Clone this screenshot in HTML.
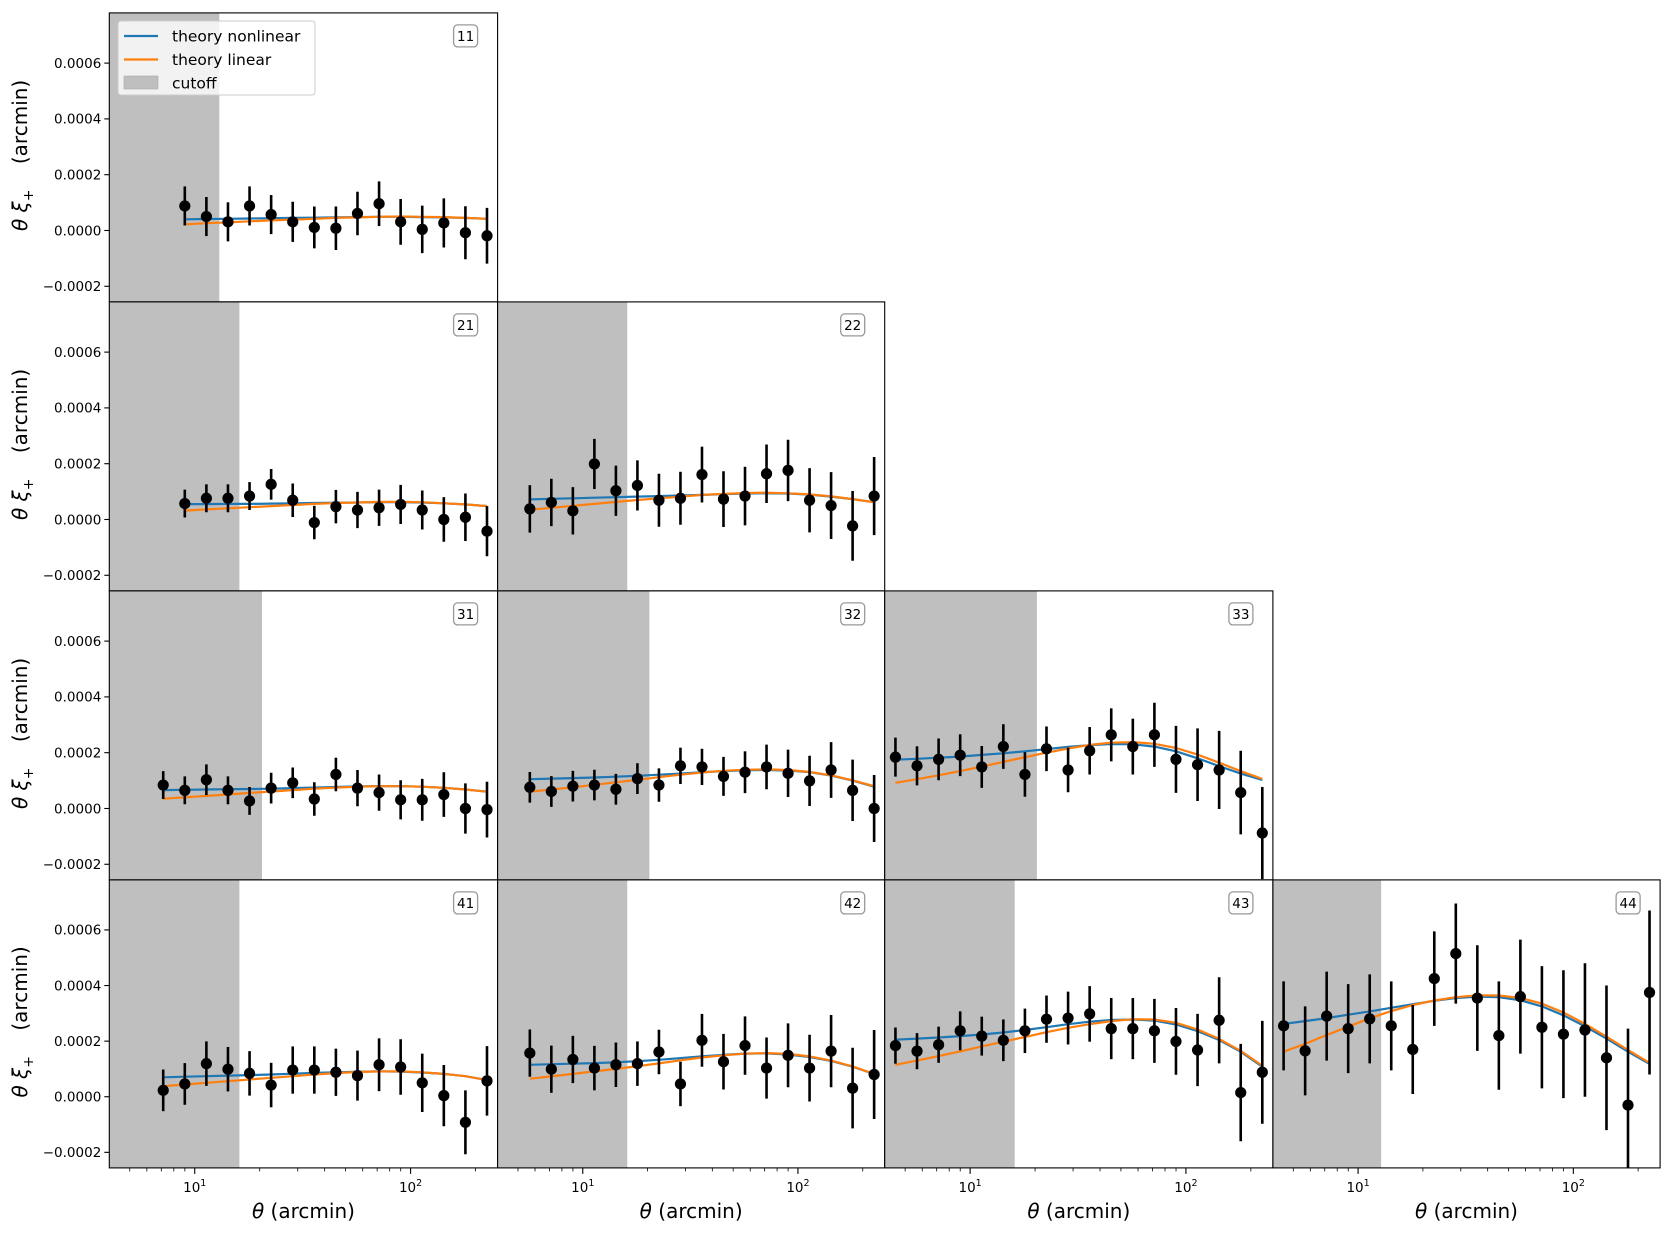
<!DOCTYPE html>
<html><head><meta charset="utf-8"><style>
html,body{margin:0;padding:0;background:#fff}
svg{display:block;font-family:"DejaVu Sans","Liberation Sans",sans-serif}
</style></head><body>
<svg id="fig" width="1672" height="1235" viewBox="0 0 1672 1235" xmlns="http://www.w3.org/2000/svg"></svg>
<script>
// ---- data (values in units of 1e-4) ----
const thetaGridLog0 = 0.654;           // log10 of first angular bin
const thetaGridStep = 0.1;             // log10 bin step
const panelIds = ["11","21","22","31","32","33","41","42","43","44"];
const panelStart = [3,3,1,2,1,0,2,1,0,0];
const cutoffs = [13.0,16.1,16.1,20.5,20.4,20.4,16.1,16.1,16.1,12.8];
const data11 = [0.88,0.50,0.31,0.88,0.57,0.31,0.11,0.08,0.61,0.96,0.31,0.04,0.27,-0.08,-0.19];
const err11  = [0.7,0.7,0.7,0.7,0.7,0.72,0.75,0.78,0.78,0.8,0.82,0.85,0.88,0.95,1.0];
const nl11   = [0.40,0.41,0.42,0.43,0.44,0.45,0.46,0.47,0.48,0.49,0.49,0.48,0.47,0.45,0.42];
const lin11  = [0.22,0.26,0.29,0.33,0.36,0.39,0.42,0.45,0.47,0.49,0.50,0.49,0.48,0.45,0.42];
const data21 = [0.57,0.76,0.76,0.84,1.26,0.69,-0.11,0.46,0.34,0.42,0.54,0.34,0.0,0.08,-0.42];
const err21  = [0.5,0.5,0.5,0.5,0.55,0.6,0.6,0.6,0.65,0.65,0.7,0.7,0.8,0.85,0.9];
const nl21   = [0.55,0.55,0.56,0.56,0.57,0.58,0.59,0.60,0.61,0.62,0.62,0.61,0.58,0.54,0.48];
const lin21  = [0.32,0.36,0.40,0.44,0.48,0.52,0.56,0.59,0.61,0.63,0.63,0.62,0.58,0.54,0.48];
const data22 = [0.38,0.61,0.31,1.99,1.03,1.22,0.69,0.76,1.61,0.73,0.84,1.64,1.76,0.69,0.50,-0.23,0.84];
const err22  = [0.85,0.85,0.85,0.9,0.9,0.9,0.95,0.95,1.0,1.0,1.05,1.05,1.1,1.15,1.2,1.25,1.4];
const nl22   = [0.72,0.74,0.76,0.78,0.80,0.82,0.84,0.86,0.88,0.91,0.93,0.94,0.93,0.89,0.82,0.73,0.62];
const lin22  = [0.35,0.42,0.49,0.56,0.63,0.70,0.76,0.82,0.88,0.92,0.95,0.96,0.94,0.90,0.83,0.73,0.62];
const data31 = [0.84,0.65,1.03,0.65,0.27,0.73,0.92,0.34,1.22,0.73,0.57,0.31,0.31,0.50,0.0,-0.04];
const err31  = [0.5,0.5,0.55,0.5,0.5,0.55,0.55,0.6,0.6,0.65,0.65,0.7,0.75,0.8,0.9,1.0];
const nl31   = [0.66,0.67,0.68,0.69,0.70,0.71,0.73,0.75,0.77,0.79,0.80,0.80,0.78,0.74,0.68,0.60];
const lin31  = [0.35,0.40,0.45,0.50,0.56,0.61,0.66,0.71,0.75,0.78,0.80,0.80,0.78,0.74,0.68,0.60];
const data32 = [0.76,0.61,0.80,0.84,0.69,1.07,0.84,1.53,1.49,1.15,1.30,1.49,1.26,0.99,1.38,0.65,0.0];
const err32  = [0.55,0.55,0.55,0.55,0.55,0.55,0.6,0.65,0.65,0.7,0.75,0.8,0.85,0.9,1.0,1.1,1.2];
const nl32   = [1.05,1.07,1.09,1.11,1.14,1.17,1.21,1.25,1.30,1.34,1.37,1.38,1.36,1.30,1.18,1.00,0.78];
const lin32  = [0.60,0.68,0.76,0.85,0.94,1.03,1.12,1.21,1.29,1.35,1.39,1.40,1.38,1.31,1.19,1.01,0.80];
const data33 = [1.84,1.53,1.76,1.91,1.49,2.22,1.22,2.14,1.38,2.07,2.64,2.22,2.64,1.76,1.57,1.38,0.57,-0.88];
const err33  = [0.7,0.7,0.75,0.75,0.75,0.8,0.8,0.8,0.8,0.85,0.95,1.0,1.15,1.2,1.3,1.4,1.5,1.65];
const nl33   = [1.75,1.78,1.82,1.86,1.92,1.98,2.05,2.13,2.21,2.27,2.31,2.30,2.22,2.05,1.80,1.52,1.25,1.02];
const lin33  = [0.92,1.05,1.19,1.34,1.50,1.67,1.84,2.00,2.15,2.28,2.36,2.38,2.32,2.17,1.93,1.64,1.34,1.06];
const data41 = [0.23,0.46,1.19,0.99,0.84,0.42,0.96,0.96,0.88,0.76,1.15,1.07,0.50,0.04,-0.92,0.57];
const err41  = [0.75,0.75,0.8,0.8,0.8,0.8,0.85,0.85,0.85,0.9,0.95,1.0,1.05,1.1,1.15,1.25];
const nl41   = [0.70,0.72,0.74,0.76,0.78,0.80,0.83,0.86,0.88,0.90,0.91,0.90,0.87,0.82,0.74,0.60];
const lin41  = [0.38,0.44,0.50,0.56,0.62,0.68,0.74,0.80,0.85,0.89,0.91,0.91,0.88,0.82,0.74,0.60];
const data42 = [1.57,0.99,1.34,1.03,1.15,1.19,1.61,0.46,2.03,1.26,1.84,1.03,1.49,1.03,1.64,0.31,0.80];
const err42  = [0.85,0.85,0.85,0.8,0.8,0.8,0.8,0.8,0.95,1.0,1.05,1.1,1.15,1.2,1.3,1.45,1.6];
const nl42   = [1.15,1.17,1.19,1.21,1.24,1.28,1.33,1.39,1.45,1.51,1.55,1.56,1.52,1.43,1.29,1.08,0.82];
const lin42  = [0.65,0.73,0.82,0.91,1.00,1.10,1.20,1.31,1.41,1.49,1.55,1.57,1.54,1.45,1.30,1.09,0.82];
const data43 = [1.84,1.64,1.87,2.37,2.18,2.03,2.37,2.79,2.83,2.98,2.45,2.45,2.37,1.99,1.68,2.75,0.15,0.88];
const err43  = [0.65,0.65,0.65,0.7,0.7,0.75,0.8,0.85,0.95,1.0,1.1,1.1,1.15,1.2,1.3,1.55,1.75,1.85];
const nl43   = [2.05,2.09,2.13,2.18,2.24,2.31,2.40,2.50,2.61,2.70,2.76,2.78,2.74,2.60,2.36,2.04,1.62,1.08];
const lin43  = [1.15,1.30,1.46,1.63,1.81,1.98,2.15,2.32,2.48,2.61,2.72,2.79,2.78,2.66,2.42,2.08,1.65,1.12];
const data44 = [2.55,1.65,2.90,2.45,2.80,2.55,1.70,4.25,5.15,3.55,2.20,3.60,2.50,2.25,2.40,1.40,-0.30,3.75];
const err44  = [1.6,1.6,1.6,1.6,1.6,1.6,1.6,1.7,1.8,1.9,1.95,2.05,2.2,2.3,2.4,2.6,2.75,2.95];
const nl44   = [2.62,2.72,2.83,2.95,3.07,3.20,3.33,3.45,3.55,3.60,3.58,3.47,3.25,2.93,2.53,2.09,1.62,1.18];
const lin44  = [1.62,1.90,2.22,2.52,2.82,3.08,3.30,3.46,3.58,3.65,3.64,3.55,3.35,3.03,2.62,2.16,1.68,1.22];
const yTicks = [6,4,2,0,-2];
const yTickLabels = ["0.0006","0.0004","0.0002","0.0000","\u22120.0002"];
const xTickDecades = [1,2];

const panelData = [data11,data21,data22,data31,data32,data33,data41,data42,data43,data44];
const panelErr  = [err11,err21,err22,err31,err32,err33,err41,err42,err43,err44];
const panelNL   = [nl11,nl21,nl22,nl31,nl32,nl33,nl41,nl42,nl43,nl44];
const panelLin  = [lin11,lin21,lin22,lin31,lin32,lin33,lin41,lin42,lin43,lin44];

// ---- layout ----
const colX = [109.3,497.6,884.7,1272.9,1660.1];
const rowY = [12.9,301.9,590.9,879.9,1167.9];
const XMIN = Math.log10(4.02), XMAX = Math.log10(253);
const YMIN = -2.56, YMAX = 7.8;
const NS = "http://www.w3.org/2000/svg";
const svg = document.getElementById('fig');
function mk(tag, attrs, parent){
  const e = document.createElementNS(NS, tag);
  for (const k in attrs) e.setAttribute(k, attrs[k]);
  (parent||svg).appendChild(e);
  return e;
}
function xs(col, t){ const L=colX[col], W=colX[col+1]-colX[col]; return L + (Math.log10(t)-XMIN)/(XMAX-XMIN)*W; }
function ys(row, v){ const T=rowY[row], H=rowY[row+1]-rowY[row]; return T + (YMAX-v)/(YMAX-YMIN)*H; }
function thetaAt(i){ return Math.pow(10, thetaGridLog0 + thetaGridStep*i); }

panelIds.forEach((id, p) => {
  const row = +id[0]-1, col = +id[1]-1;
  const L=colX[col], R=colX[col+1], T=rowY[row], B=rowY[row+1];
  const g = mk('g', {});
  
  
  const clipId = 'clip'+id;
  const cp = mk('clipPath', {id: clipId}, g);
  mk('rect', {x:L, y:T, width:R-L, height:B-T}, cp);
  const inner = mk('g', {'clip-path':'url(#'+clipId+')'}, g);
  mk('rect', {x:L, y:T, width:R-L, height:B-T, fill:'#fff'}, inner);
  const cut = mk('rect', {x:L, y:T, width:xs(col,cutoffs[p])-L, height:B-T, fill:'#bfbfbf'}, inner);
  
  
  const s = panelStart[p];
  const d = panelData[p], e = panelErr[p];
  const mkLine = (arr, color, name) => {
    const pts = arr.map((v,k)=> xs(col,thetaAt(s+k)).toFixed(1)+','+ys(row,v).toFixed(1)).join(' ');
    const pl = mk('polyline', {points:pts, fill:'none', stroke:color, 'stroke-width':2.2, 'stroke-linejoin':'round'}, inner);
    
    
  };
  mkLine(panelNL[p], '#1f77b4', 'theory-nonlinear-line');
  mkLine(panelLin[p], '#ff7f0e', 'theory-linear-line');
  d.forEach((v,k) => {
    const x = xs(col, thetaAt(s+k));
    const eb = mk('line', {x1:x, x2:x, y1:ys(row,v+e[k]), y2:ys(row,v-e[k]), stroke:'#000', 'stroke-width':2.6}, inner);
    
    
    const c = mk('circle', {cx:x, cy:ys(row,v), r:5.6, fill:'#000'}, inner);
    
    
  });
  mk('rect', {x:L, y:T, width:R-L, height:B-T, fill:'none', stroke:'#000', 'stroke-width':1.1}, g);
  const lbl = mk('g', {}, g);
  
  
  mk('rect', {x:R-44, y:T+12, width:24, height:22, rx:4, fill:'#fff', stroke:'#999', 'stroke-width':1.3}, lbl);
  const t = mk('text', {x:R-32, y:T+28, 'font-size':13.5, 'text-anchor':'middle', fill:'#000'}, lbl);
  t.textContent = id;
  if (col===0){
    yTicks.forEach((v,k)=>{
      const y = ys(row,v);
      mk('line', {x1:L-5, x2:L, y1:y, y2:y, stroke:'#000', 'stroke-width':1.1}, g);
      const tl = mk('text', {x:L-8, y:y+4.8, 'font-size':13.5, 'text-anchor':'end'}, g);
      
      
      tl.textContent = yTickLabels[k];
    });
    const cy = (T+B)/2 - 2;
    const yl = mk('text', {x:0, y:0, 'font-size':20, 'text-anchor':'middle', transform:'translate(27,'+cy+') rotate(-90)'}, g);
    
    
    yl.innerHTML = '<tspan font-style="italic">θ ξ</tspan><tspan font-size="14" dy="6">+</tspan><tspan dy="-6" xml:space="preserve">    (arcmin)</tspan>';
  }
  if (row===3){
    for (let dec=0; dec<=2; dec++){
      for (let m=1; m<=9; m++){
        const t = m*Math.pow(10,dec);
        if (Math.log10(t)<XMIN || Math.log10(t)>XMAX) continue;
        const x = xs(col,t);
        mk('line', {x1:x, x2:x, y1:B, y2:B+(m===1?6:3.5), stroke:'#000', 'stroke-width':(m===1?1.1:0.8)}, g);
      }
    }
    xTickDecades.forEach(dd=>{
      const x = xs(col, Math.pow(10,dd));
      const tl = mk('text', {x:x, y:B+24, 'font-size':13.5, 'text-anchor':'middle'}, g);
      
      
      tl.innerHTML = '10<tspan font-size="9.5" dy="-6">'+dd+'</tspan>';
    });
    const xl = mk('text', {x:(L+R)/2, y:B+50, 'font-size':20, 'text-anchor':'middle'}, g);
    
    
    xl.innerHTML = '<tspan font-style="italic">θ</tspan> (arcmin)';
  }
});
const lg = mk('g', {});


mk('rect', {x:118, y:21, width:197, height:74, rx:3, fill:'#fff', 'fill-opacity':0.8, stroke:'#ccc', 'stroke-width':1}, lg);
const items = [['theory nonlinear','#1f77b4','line'],['theory linear','#ff7f0e','line'],['cutoff','#bfbfbf','patch']];
items.forEach((it,k)=>{
  const y = 36 + k*23.5;
  const en = mk('g', {}, lg);
  
  
  if (it[2]==='line') mk('line', {x1:124, x2:158, y1:y, y2:y, stroke:it[1], 'stroke-width':2.2}, en);
  else mk('rect', {x:124, y:y-7, width:34, height:13, fill:it[1], stroke:'#aaa', 'stroke-width':0.6}, en);
  const t = mk('text', {x:172, y:y+5.5, 'font-size':15.5}, en);
  t.textContent = it[0];
});
</script>
</body></html>
